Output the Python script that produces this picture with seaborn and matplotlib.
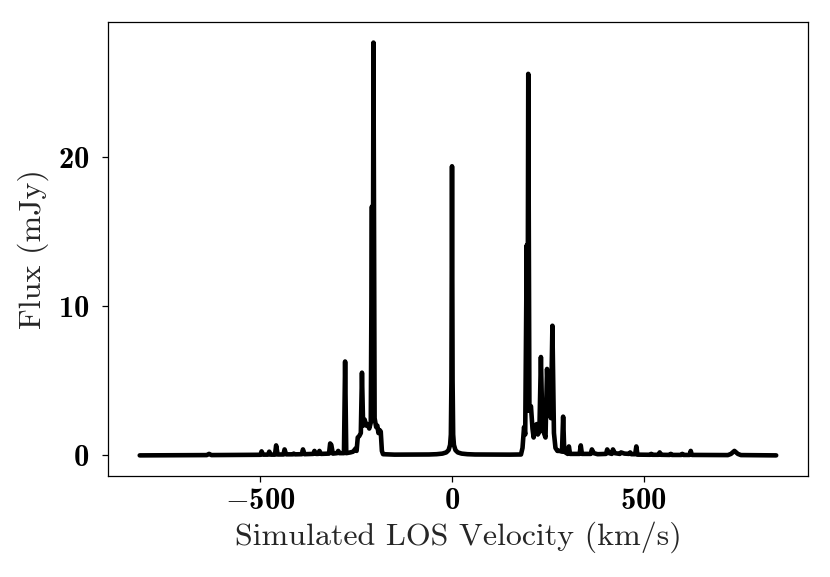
import numpy as np
import pandas as pd
import matplotlib
matplotlib.use("Agg")
import matplotlib.pyplot as plt
import seaborn as sns
from matplotlib.ticker import MultipleLocator, FuncFormatter

# Spectrum vertices (velocity in km/s, flux in mJy)
left_wing_v = [-815, -700, -640, -634, -628, -540, -500, -497, -493, -480, -477, -473,
               -462, -459, -455, -440, -437, -433, -416, -413, -410, -392, -389, -385,
               -362, -359, -355, -349, -346, -342, -321, -318, -315, -311, -300, -297,
               -294, -282, -279, -276, -265, -258, -252, -249]
left_wing_f = [0.0, 0.01, 0.02, 0.1, 0.02, 0.03, 0.04, 0.27, 0.05, 0.05, 0.25, 0.05,
               0.05, 0.67, 0.06, 0.06, 0.4, 0.07, 0.07, 0.12, 0.07, 0.08, 0.4, 0.08,
               0.1, 0.3, 0.1, 0.1, 0.3, 0.1, 0.12, 0.8, 0.7, 0.12, 0.15, 0.3,
               0.15, 0.15, 6.3, 0.15, 0.2, 0.25, 0.45, 0.3]

left_cluster_v = [-246, -242, -238, -235, -232, -228, -224, -220, -216, -212, -209,
                  -207, -205, -202, -198, -195, -192, -189, -186, -183, -180]
left_cluster_f = [1.2, 1.3, 1.5, 5.55, 2.0, 2.4, 2.0, 2.1, 1.8, 2.2, 16.7,
                  3.0, 27.7, 2.5, 1.9, 2.0, 1.5, 1.7, 1.6, 0.3, 0.08]

center_v = [-150, -60, -40, -25, -15, -9, -5, -3, -1.5, 0,
            1.5, 3, 5, 9, 15, 25, 40, 60, 150, 180]
center_f = [0.05, 0.06, 0.08, 0.12, 0.2, 0.35, 0.7, 1.4, 5.0, 19.4,
            5.0, 1.4, 0.7, 0.35, 0.2, 0.12, 0.08, 0.06, 0.05, 0.06]

right_cluster_v = [184, 188, 191, 195, 197, 199, 202, 206, 210, 213, 217, 221, 224,
                   228, 232, 236, 240, 244, 248, 252, 255, 258, 262, 266, 270, 275,
                   281, 287, 290, 293]
right_cluster_f = [0.5, 1.9, 1.4, 14.1, 3.0, 25.6, 3.0, 3.3, 1.8, 1.2, 2.0, 2.1, 1.4,
                   1.6, 6.6, 1.8, 1.5, 1.2, 5.8, 3.0, 4.7, 2.5, 8.7, 1.5, 0.5, 0.3,
                   0.3, 0.25, 2.6, 0.25]

right_wing_v = [302, 305, 308, 333, 336, 339, 362, 365, 370, 380, 402, 405, 410, 417,
                420, 425, 438, 441, 450, 462, 465, 468, 478, 481, 484, 517, 520, 523,
                539, 542, 545, 568, 571, 574, 598, 601, 604, 620, 623, 626, 720, 728,
                737, 746, 754, 846]
right_wing_f = [0.1, 0.6, 0.1, 0.1, 0.67, 0.1, 0.1, 0.4, 0.15, 0.08, 0.1, 0.4, 0.15, 0.1,
                0.4, 0.15, 0.1, 0.2, 0.12, 0.1, 0.2, 0.08, 0.08, 0.6, 0.05, 0.04, 0.1, 0.04,
                0.04, 0.2, 0.04, 0.03, 0.1, 0.03, 0.03, 0.1, 0.03, 0.03, 0.3, 0.03, 0.02, 0.1,
                0.3, 0.1, 0.02, 0.0]

x_ticks_step = 500
y_ticks_step = 10

spectrum = pd.DataFrame({
    "velocity": left_wing_v + left_cluster_v + center_v + right_cluster_v + right_wing_v,
    "flux": left_wing_f + left_cluster_f + center_f + right_cluster_f + right_wing_f,
})

sns.set_style("ticks")
plt.rcParams["font.family"] = ["cmr10", "DejaVu Serif"]
# bold Computer Modern for the tick numbers, minus sign falls back to cm symbols
plt.rcParams["mathtext.fontset"] = "custom"
plt.rcParams["mathtext.rm"] = "cmb10"
plt.rcParams["mathtext.bf"] = "cmb10"
plt.rcParams["mathtext.fallback"] = "cm"
plt.rcParams["axes.unicode_minus"] = False
plt.rcParams["axes.edgecolor"] = "black"
plt.rcParams["axes.linewidth"] = 0.9
plt.rcParams["xtick.color"] = "black"
plt.rcParams["ytick.color"] = "black"

fig, ax = plt.subplots(figsize=(8.3, 5.77), dpi=100)
fig.subplots_adjust(left=0.130, right=0.9735, top=0.962, bottom=0.175)

sns.lineplot(data=spectrum, x="velocity", y="flux", color="black", linewidth=3.3,
             estimator=None, sort=False, ax=ax)

ax.xaxis.set_major_locator(MultipleLocator(x_ticks_step))
ax.yaxis.set_major_locator(MultipleLocator(y_ticks_step))
bold_fmt = FuncFormatter(lambda v, p: r"$\mathbf{%s}$" % ("%g" % v))
ax.xaxis.set_major_formatter(bold_fmt)
ax.yaxis.set_major_formatter(bold_fmt)
ax.tick_params(axis="both", labelsize=22, length=4.5, width=0.9, color="black")
ax.tick_params(axis="x", pad=4)
ax.tick_params(axis="y", pad=9)

ax.set_xlabel("Simulated LOS Velocity (km/s)", fontsize=23, labelpad=4)
ax.set_ylabel("Flux (mJy)", fontsize=23, labelpad=6)

fig.savefig("out.png", dpi=100)
